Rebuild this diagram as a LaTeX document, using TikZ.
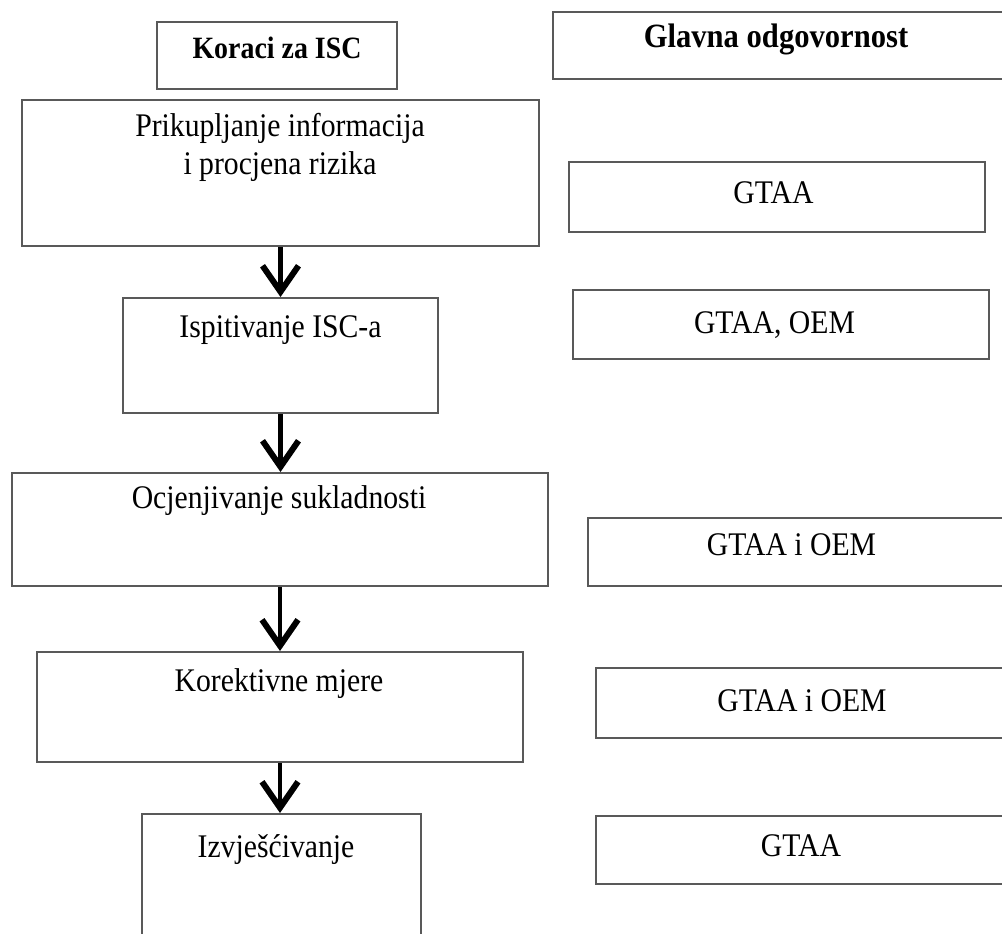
\documentclass[tikz,border=0pt]{standalone}
\usepackage{fontspec}
\setmainfont{Liberation Serif}[FakeStretch=0.9]
\usetikzlibrary{arrows.meta}
\tikzset{
  box/.style={draw=black!65, line width=2pt, rectangle, inner sep=0pt},
  txt/.style={inner sep=0pt, anchor=base, font=\fontsize{33}{38}\selectfont, align=center},
  head/.style={txt, font=\fontsize{31}{38}\selectfont\bfseries},
  arr/.style={line width=4.5pt, black, -{Straight Barb[length=26pt,width=36pt,line width=6pt]}}
}
\begin{document}
\begin{tikzpicture}[x=1pt,y=-1pt]
\useasboundingbox (0,0) rectangle (1002,934);
\clip (0,0) rectangle (1002,934);
% left column boxes
\node[box, minimum width=240pt, minimum height=67pt]  (koraci) at (277,55.5) {};
\node[box, minimum width=517pt, minimum height=146pt] (prik)   at (280.5,173) {};
\node[box, minimum width=315pt, minimum height=115pt] (isp)    at (280.5,355.5) {};
\node[box, minimum width=536pt, minimum height=113pt] (ocj)    at (280,529.5) {};
\node[box, minimum width=486pt, minimum height=110pt] (kor)    at (280,707) {};
\node[box, minimum width=279pt, minimum height=130pt] (izv)    at (281.5,879) {};
% right column boxes
\node[box, minimum width=453pt, minimum height=67pt] (glavna) at (779.5,45.5) {};
\node[box, minimum width=416pt, minimum height=70pt] (g1) at (777,197) {};
\node[box, minimum width=416pt, minimum height=69pt] (g2) at (781,324.5) {};
\node[box, minimum width=418pt, minimum height=68pt] (g3) at (797,552) {};
\node[box, minimum width=410pt, minimum height=70pt] (g4) at (801,703) {};
\node[box, minimum width=410pt, minimum height=68pt] (g5) at (801,850) {};
% texts
\node[head] (tkoraci) at (277,59) {Koraci za ISC};
\node[head, font=\fontsize{34}{38}\selectfont\bfseries] (tglavna) at (776,48) {Glavna odgovornost};
\node[txt, anchor=north] (tprik) at (280,113) {Prikupljanje informacija\\i procjena rizika};
\node[txt] (tisp) at (280.5,337) {Ispitivanje ISC-a};
\node[txt] (tocj) at (279,508) {Ocjenjivanje sukladnosti};
\node[txt] (tkor) at (279,691) {Korektivne mjere};
\node[txt] (tizv) at (276,857) {Izvješćivanje};
\node[txt] (tg1) at (773.5,203) {GTAA};
\node[txt] (tg2) at (774.5,333) {GTAA, OEM};
\node[txt] (tg3) at (791.5,555) {GTAA i OEM};
\node[txt] (tg4) at (802,711) {GTAA i OEM};
\node[txt] (tg5) at (801,856) {GTAA};
% arrows
\draw[arr] (prik.south) -- (prik.south |- isp.north);
\draw[arr] (isp.south) -- (isp.south |- ocj.north);
\draw[arr] (ocj.south) -- (ocj.south |- kor.north);
\draw[arr] (kor.south) -- (kor.south |- izv.north);
\end{tikzpicture}
\end{document}
